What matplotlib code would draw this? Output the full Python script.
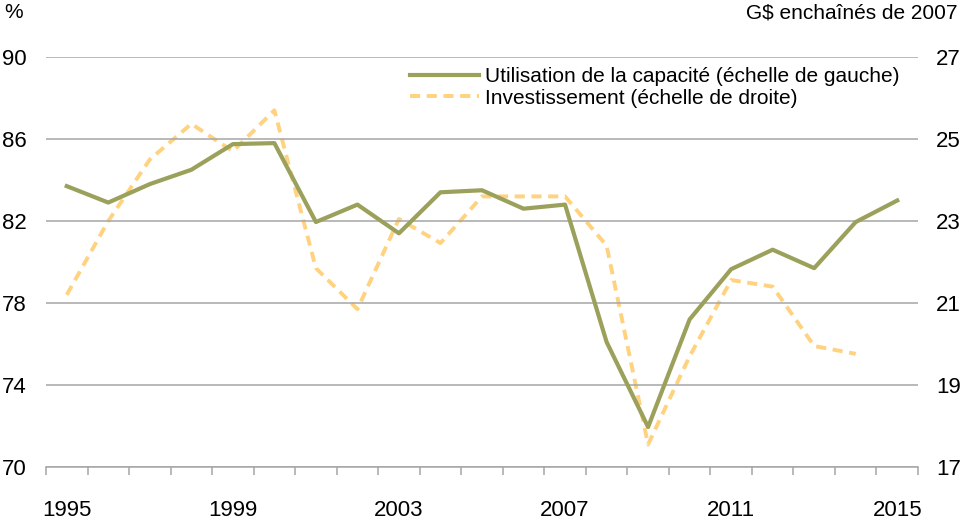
import matplotlib
matplotlib.use("Agg")
import matplotlib.pyplot as plt
import numpy as np

years = list(range(1995, 2016))
capacity = [83.7, 82.9, 83.8, 84.5, 85.75, 85.8, 81.95, 82.8, 81.4, 83.4, 83.5,
            82.6, 82.8, 76.1, 71.95, 77.2, 79.65, 80.6, 79.7, 81.95, 83.0]
investment = [21.2, 23.0, 24.5, 25.37, 24.7, 25.7, 21.85, 20.85, 23.05, 22.46, 23.6,
              23.6, 23.6, 22.4, 17.55, 19.7, 21.56, 21.4, 19.95, 19.76, None]
left_ticks = [70, 74, 78, 82, 86, 90]
right_ticks = [17, 19, 21, 23, 25, 27]
xlabels_shown = [1995, 1999, 2003, 2007, 2011, 2015]

plt.rcParams['font.family'] = ['Liberation Sans', 'DejaVu Sans']
FS = 16
FS_T = 15
W, H = 965, 524
fig = plt.figure(figsize=(W / 100, H / 100), dpi=100)
ax = fig.add_axes([46 / W, 1 - 467 / H, (918 - 46) / W, (467 - 57) / H])
ax2 = ax.twinx()

x = np.arange(len(years))
green = '#9BA05B'
orange = '#FFD27F'

inv = np.array([np.nan if v is None else v for v in investment], dtype=float)
l2, = ax2.plot(x, inv, color=orange, lw=2.8, ls=(0, (2.6, 1.7)), label='Investissement (échelle de droite)')
l1, = ax.plot(x, capacity, color=green, lw=3, label='Utilisation de la capacité (échelle de gauche)')
ax.set_zorder(ax2.get_zorder() + 1)
ax.patch.set_visible(False)

ax.set_xlim(-0.5, len(years) - 0.5)
ax.set_ylim(70, 90)
ax2.set_ylim(17, 27)
ax.set_yticks(left_ticks)
ax2.set_yticks(right_ticks)
ax.yaxis.grid(True, color='#A6A6A6', lw=1.1)
ax.set_axisbelow(True)

for a in (ax, ax2):
    for s in ('left', 'right', 'top', 'bottom'):
        a.spines[s].set_visible(False)
ax.spines['bottom'].set_visible(True)
ax.spines['bottom'].set_color('#A6A6A6')
ax.spines['bottom'].set_linewidth(1.1)

ax.tick_params(axis='y', length=0, labelsize=FS, pad=14)
ax2.tick_params(axis='y', length=0, labelsize=FS, pad=13)

ax.set_xticks(np.arange(len(years) + 1) - 0.5, minor=True)
ax.set_xticks([years.index(y) for y in xlabels_shown])
ax.set_xticklabels([str(y) for y in xlabels_shown], fontsize=FS)
ax.tick_params(axis='x', which='major', length=0, pad=24)
ax.tick_params(axis='x', which='minor', length=6, color='#A6A6A6', width=1.1)

fig.text(4 / W, 1 - 13 / H, '%', fontsize=FS_T, ha='left', va='center')
fig.text(958 / W, 1 - 13 / H, 'G$ enchaînés de 2007', fontsize=FS_T, ha='right', va='center')

leg = ax.legend(handles=[l1, l2], loc='upper left', bbox_to_anchor=(410 / W, 1 - 67 / H),
                bbox_transform=fig.transFigure, frameon=False, fontsize=FS_T,
                handlelength=3.3, handletextpad=0.3, labelspacing=0.12, borderaxespad=0,
                borderpad=0)

fig.savefig('out.png', dpi=100)
